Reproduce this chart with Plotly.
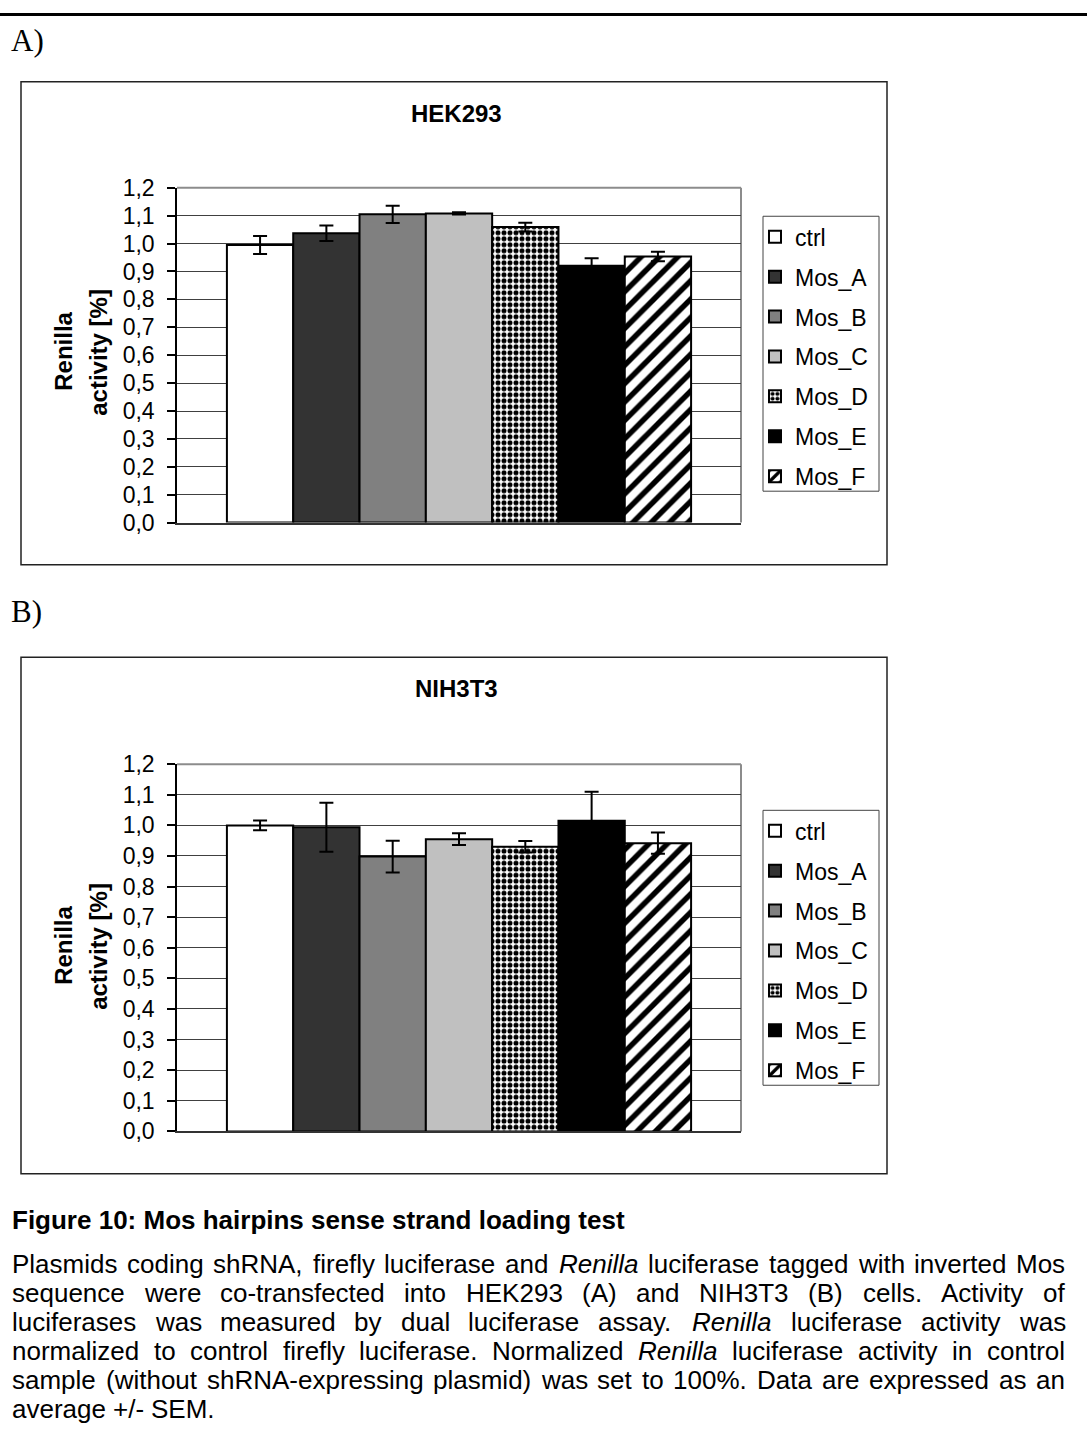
import plotly.graph_objects as go

W, H = 1087, 1438

# ---------------- data ----------------
series_names = ["ctrl", "Mos_A", "Mos_B", "Mos_C", "Mos_D", "Mos_E", "Mos_F"]
hek293_values = [0.995, 1.037, 1.105, 1.108, 1.059, 0.921, 0.954]
hek293_sem = [0.032, 0.028, 0.031, 0.004, 0.016, 0.026, 0.017]
nih3t3_values = [1.000, 0.994, 0.898, 0.955, 0.930, 1.015, 0.942]
nih3t3_sem = [0.016, 0.080, 0.052, 0.019, 0.019, 0.095, 0.035]
y_tick_values = [0.0, 0.1, 0.2, 0.3, 0.4, 0.5, 0.6, 0.7, 0.8, 0.9, 1.0, 1.1, 1.2]
y_tick_labels = ["0,0", "0,1", "0,2", "0,3", "0,4", "0,5", "0,6", "0,7", "0,8", "0,9", "1,0", "1,1", "1,2"]
panel_titles = ["HEK293", "NIH3T3"]
panel_letters = ["A)", "B)"]
y_title_lines = ["Renilla", "activity [%]"]

caption_title = "Figure 10: Mos hairpins sense strand loading test"
caption_lines = [
    "Plasmids coding shRNA, firefly luciferase and *Renilla* luciferase tagged with inverted Mos",
    "sequence were co-transfected into HEK293 (A) and NIH3T3 (B) cells. Activity of",
    "luciferases was measured by dual luciferase assay. *Renilla* luciferase activity was",
    "normalized to control firefly luciferase. Normalized *Renilla* luciferase activity in control",
    "sample (without shRNA-expressing plasmid) was set to 100%. Data are expressed as an",
    "average +/- SEM.",
]

# ---------------- styles ----------------
fill_colors = ["#ffffff", "#333333", "#808080", "#c0c0c0", "#ffffff", "#000000", "#ffffff"]
pattern_styles = [
    None, None, None, None,
    dict(shape=".", fgcolor="#000000", bgcolor="#ffffff", size=6, solidity=0.55, fillmode="replace"),
    None,
    dict(shape="/", fgcolor="#000000", bgcolor="#ffffff", size=13, solidity=0.42, fillmode="replace"),
]
FONT = "Arial, Liberation Sans, sans-serif"
SERIF = "Times New Roman, Liberation Serif, serif"


def xp(px):
    return px / W


def yp(py):
    return 1 - py / H


# panel geometry in pixels (top-down)
panels = [
    dict(frame=(21, 70, 887, 562), plot=(177, 178, 741, 519), legend_top=207, title_y=102,
         letter_y=28, ytitle_y=345),
    dict(frame=(21, 656, 887, 1182), plot=(177, 765, 741, 1139), legend_top=812, title_y=688,
         letter_y=610, ytitle_y=950),
]
panel_values = [hek293_values, nih3t3_values]
panel_sems = [hek293_sem, nih3t3_sem]

fig = go.Figure()
shapes = []
annotations = []

for p, geo in enumerate(panels):
    sfx = "" if p == 0 else str(p + 1)
    legname = "legend" if p == 0 else "legend2"
    for i, name in enumerate(series_names):
        marker = dict(color=fill_colors[i], line=dict(color="#000000", width=2))
        if pattern_styles[i] is not None:
            marker["pattern"] = pattern_styles[i]
        fig.add_trace(go.Bar(
            x=[panel_titles[p]], y=[panel_values[p][i]], name=name,
            xaxis="x" + sfx, yaxis="y" + sfx, legend=legname,
            legendgroup=f"p{p}s{i}",
            marker=marker,
            error_y=dict(type="data", array=[panel_sems[p][i]], color="#000000", thickness=2, width=7),
        ))
    x0, y0, x1, y1 = geo["plot"]
    fig.update_layout(**{
        "xaxis" + sfx: dict(domain=[xp(x0), xp(x1)], anchor="y" + sfx, type="category",
                            range=[-0.5, 0.5], showticklabels=False, ticks="", showgrid=False,
                            showline=True, linecolor="#333333", linewidth=2, zeroline=False,
                            fixedrange=True),
        "yaxis" + sfx: dict(domain=[yp(y1), yp(y0)], anchor="x" + sfx, range=[0, 1.2],
                            tickvals=y_tick_values, ticktext=y_tick_labels,
                            showgrid=True, gridcolor="#404040", gridwidth=1,
                            ticks="outside", ticklen=8, tickwidth=1.5, tickcolor="#000000",
                            showline=True, linecolor="#000000", linewidth=1.5, zeroline=False,
                            ticklabelstandoff=8,
                            tickfont=dict(family=FONT, size=23, color="#000000"), fixedrange=True),
    })
    # plot-area border (gray): right and top edges
    shapes.append(dict(type="line", xref="paper", yref="paper", x0=xp(x1), x1=xp(x1),
                       y0=yp(y1), y1=yp(y0), line=dict(color="#8c8c8c", width=2), layer="below"))
    shapes.append(dict(type="line", xref="paper", yref="paper", x0=xp(x0), x1=xp(x1),
                       y0=yp(y0), y1=yp(y0), line=dict(color="#8c8c8c", width=2), layer="below"))
    # chart frame
    fx0, fy0, fx1, fy1 = geo["frame"]
    shapes.append(dict(type="rect", xref="paper", yref="paper", x0=xp(fx0), x1=xp(fx1),
                       y0=yp(fy1), y1=yp(fy0), line=dict(color="#222222", width=1.5)))
    # legend box
    lt = geo["legend_top"]
    shapes.append(dict(type="rect", xref="paper", yref="paper", x0=xp(763), x1=xp(879),
                       y0=yp(lt + 280), y1=yp(lt), line=dict(color="#444444", width=1)))
    fig.update_layout(**{legname: dict(
        x=xp(755), y=yp(lt - 1), xanchor="left", yanchor="top", bgcolor="rgba(0,0,0,0)",
        borderwidth=0, font=dict(family=FONT, size=23, color="#000000"),
        tracegroupgap=7, traceorder="grouped", itemclick=False, itemdoubleclick=False)})
    # chart title
    annotations.append(dict(text="<b>" + panel_titles[p] + "</b>", x=xp(456), y=yp(geo["title_y"]),
                            xref="paper", yref="paper", showarrow=False, xanchor="center",
                            yanchor="middle", font=dict(family=FONT, size=24, color="#000000")))
    # panel letter
    annotations.append(dict(text=panel_letters[p], x=xp(9), y=yp(geo["letter_y"]),
                            xref="paper", yref="paper", showarrow=False, xanchor="left",
                            yanchor="middle", font=dict(family=SERIF, size=31, color="#000000")))
    # y-axis title (two rotated lines)
    for k, line in enumerate(y_title_lines):
        annotations.append(dict(text="<b>" + line + "</b>", x=xp(64 + 35 * k), y=yp(geo["ytitle_y"]),
                                xref="paper", yref="paper", showarrow=False, xanchor="center",
                                yanchor="middle", textangle=-90,
                                font=dict(family=FONT, size=24, color="#000000")))

# top rule of the page
shapes.append(dict(type="rect", xref="paper", yref="paper", x0=0, x1=1, y0=yp(3), y1=1,
                   line=dict(width=0), fillcolor="#000000"))

# ---------------- caption (justified with Arial metrics) ----------------
ARIAL = {" ": 278, "!": 278, "%": 889, "(": 333, ")": 333, "+": 584, ",": 278, "-": 333, ".": 278,
         "/": 278, ":": 278, "_": 556, "[": 278, "]": 278}
for c in "0123456789":
    ARIAL[c] = 556
ARIAL.update(dict(A=667, B=667, C=722, D=722, E=667, F=611, G=778, H=722, I=278, J=500, K=667,
                  L=556, M=833, N=722, O=778, P=667, Q=778, R=722, S=667, T=611, U=722, V=667,
                  W=944, X=667, Y=667, Z=611))
ARIAL.update(dict(a=556, b=556, c=500, d=556, e=556, f=278, g=556, h=556, i=222, j=222, k=500,
                  l=222, m=833, n=556, o=556, p=556, q=556, r=333, s=500, t=278, u=556, v=500,
                  w=722, x=500, y=500, z=500))


def text_width(s, fs):
    return sum(ARIAL.get(ch, 556) for ch in s) * fs / 1000.0


BODY_FS = 26
TX0, TX1 = 11, 1064
annotations.append(dict(text="<b>" + caption_title + "</b>", x=xp(TX0), y=yp(1229), xref="paper",
                        yref="paper", showarrow=False, xanchor="left", yanchor="middle",
                        borderpad=0, font=dict(family=FONT, size=26, color="#000000")))
line_y0, line_dy = 1274, 29.6
for li, line in enumerate(caption_lines):
    words = line.split(" ")
    plain = [w.strip("*") for w in words]
    widths = [text_width(w, BODY_FS) for w in plain]
    ypos = line_y0 + li * line_dy
    if li == len(caption_lines) - 1:
        gap = text_width(" ", BODY_FS)
    else:
        gap = (TX1 - TX0 - sum(widths)) / (len(words) - 1)
    xcur = TX0
    for w, pw, wd in zip(words, plain, widths):
        txt = "<i>" + pw + "</i>" if w.startswith("*") else pw
        annotations.append(dict(text=txt, x=xp(xcur), y=yp(ypos), xref="paper", yref="paper",
                                showarrow=False, xanchor="left", yanchor="middle", borderpad=0,
                                font=dict(family=FONT, size=BODY_FS, color="#000000")))
        xcur += wd + gap

fig.update_layout(
    width=W, height=H, margin=dict(l=0, r=0, t=0, b=0),
    paper_bgcolor="#ffffff", plot_bgcolor="#ffffff",
    barmode="group", bargap=0.177, bargroupgap=0,
    showlegend=True, separators=",.",
    shapes=shapes, annotations=annotations,
)

fig.write_html("out.html")
